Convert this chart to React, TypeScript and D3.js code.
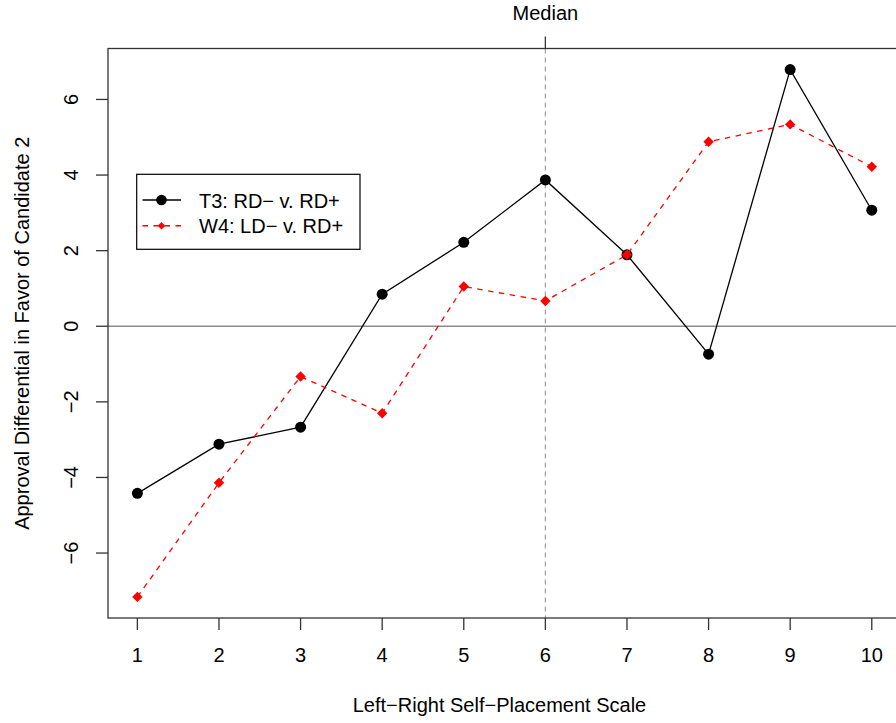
import React from "react";
import * as d3 from "d3";

const xValues = [1, 2, 3, 4, 5, 6, 7, 8, 9, 10];
const t3Values = [-4.42, -3.12, -2.67, 0.85, 2.22, 3.87, 1.89, -0.74, 6.79, 3.07];
const w4Values = [-7.16, -4.14, -1.33, -2.3, 1.05, 0.67, 1.89, 4.88, 5.34, 4.22];
const xTicks = [1, 2, 3, 4, 5, 6, 7, 8, 9, 10];
const yTicks = [-6, -4, -2, 0, 2, 4, 6];
const seriesLabels = ["T3: RD\u2212 v. RD+", "W4: LD\u2212 v. RD+"];
const medianValue = 6;
const medianLabel = "Median";
const xTitle = "Left\u2212Right Self\u2212Placement Scale";
const yTitle = "Approval Differential in Favor of Candidate 2";
const yTickLabel = (v: number) => (v < 0 ? "\u2212" + Math.abs(v) : String(v));

const W = 896;
const H = 723;
const left = 108;
const top = 48.5;
const bottom = 618;
const FONT = "'Liberation Sans', Arial, Helvetica, sans-serif";

export default function App() {
  const xMin = d3.min(xValues)!;
  const xMax = d3.max(xValues)!;
  const xPad = (xMax - xMin) * 0.04;
  const allY = [...t3Values, ...w4Values];
  const yMin = d3.min(allY)!;
  const yMax = d3.max(allY)!;
  const yPad = (yMax - yMin) * 0.04;
  const unit = 81.6;
  const right = left + (xMax - xMin + 2 * xPad) * unit;

  const x = d3.scaleLinear().domain([xMin - xPad, xMax + xPad]).range([left, right]);
  const y = d3.scaleLinear().domain([yMin - yPad, yMax + yPad]).range([bottom, top]);

  const line = d3
    .line<number>()
    .x((_, i) => x(xValues[i]))
    .y((d) => y(d));

  const diamond = (cx: number, cy: number, r: number) =>
    `M${cx},${cy - r}L${cx + r},${cy}L${cx},${cy + r}L${cx - r},${cy}Z`;

  const legX = 136.7;
  const legY = 174.3;
  const legW = 223.3;
  const legH = 75;
  const row1 = 200;
  const row2 = 225.7;

  return (
    <div style={{ position: "absolute", left: 0, top: 0, width: W, height: H, overflow: "hidden", background: "#fff" }}>
      <svg width={W} height={H} style={{ display: "block" }} fontFamily={FONT}>
        <rect x={0} y={0} width={W} height={H} fill="#fff" />
        {/* zero line */}
        <line x1={left} x2={right} y1={y(0)} y2={y(0)} stroke="#8c8c8c" strokeWidth={1.3} />
        {/* median line */}
        <line
          x1={x(medianValue)}
          x2={x(medianValue)}
          y1={top}
          y2={bottom}
          stroke="#a0a0a0"
          strokeWidth={1.2}
          strokeDasharray="5,4"
        />
        {/* box */}
        <rect x={left} y={top} width={right - left} height={bottom - top} fill="none" stroke="#333" strokeWidth={1.3} />

        {/* x axis ticks */}
        {xTicks.map((t) => (
          <g key={"xt" + t}>
            <line x1={x(t)} x2={x(t)} y1={bottom} y2={bottom + 12} stroke="#333" strokeWidth={1.3} />
            <text x={x(t)} y={662} fontSize={20} textAnchor="middle" fill="#000">
              {t}
            </text>
          </g>
        ))}
        {/* y axis ticks */}
        {yTicks.map((t) => (
          <g key={"yt" + t}>
            <line x1={left - 12} x2={left} y1={y(t)} y2={y(t)} stroke="#333" strokeWidth={1.3} />
            <text
              transform={`translate(78,${y(t)}) rotate(-90)`}
              fontSize={20}
              textAnchor="middle"
              fill="#000"
            >
              {yTickLabel(t)}
            </text>
          </g>
        ))}
        {/* top median tick */}
        <line x1={x(medianValue)} x2={x(medianValue)} y1={top} y2={top - 12} stroke="#333" strokeWidth={1.3} />
        <text x={x(medianValue)} y={20} fontSize={20} textAnchor="middle" fill="#000">
          {medianLabel}
        </text>

        {/* titles */}
        <text x={(left + 901) / 2 - 5} y={712} fontSize={20} textAnchor="middle" fill="#000">
          {xTitle}
        </text>
        <text transform={`translate(29,${(top + bottom) / 2}) rotate(-90)`} fontSize={20} textAnchor="middle" fill="#000">
          {yTitle}
        </text>

        {/* T3 series */}
        <path d={line(t3Values) || ""} fill="none" stroke="#000" strokeWidth={1.3} />
        {t3Values.map((v, i) => (
          <circle key={"c" + i} cx={x(xValues[i])} cy={y(v)} r={5.5} fill="#000" />
        ))}
        {/* W4 series */}
        <path d={line(w4Values) || ""} fill="none" stroke="#ff0000" strokeWidth={1.3} strokeDasharray="5.5,5.5" />
        {w4Values.map((v, i) => (
          <path key={"d" + i} d={diamond(x(xValues[i]), y(v), 5.2)} fill="#ff0000" />
        ))}

        {/* legend */}
        <rect x={legX} y={legY} width={legW} height={legH} fill="#fff" stroke="#000" strokeWidth={1.2} />
        <line x1={142.5} x2={181} y1={row1} y2={row1} stroke="#000" strokeWidth={1.5} />
        <circle cx={161.5} cy={row1} r={5.3} fill="#000" />
        <text x={199} y={row1 + 7.5} fontSize={20} fill="#000">
          {seriesLabels[0]}
        </text>
        <line x1={142.5} x2={181} y1={row2} y2={row2} stroke="#ff0000" strokeWidth={1.5} strokeDasharray="5.5,5.5" />
        <path d={diamond(161.5, row2, 3.8)} fill="#ff0000" />
        <text x={199} y={row2 + 7.5} fontSize={20} fill="#000">
          {seriesLabels[1]}
        </text>
      </svg>
    </div>
  );
}
